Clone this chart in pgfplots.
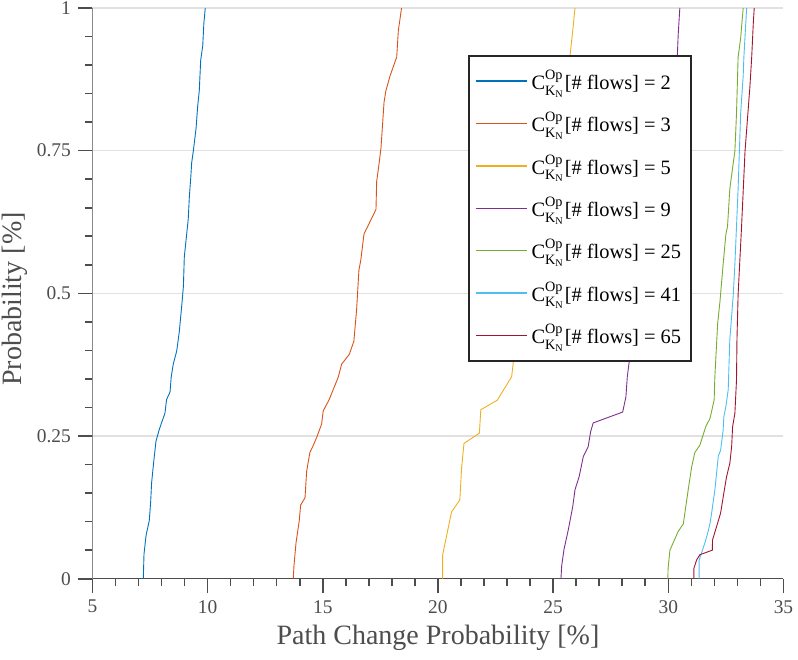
\documentclass[border=0pt]{standalone}
\usepackage{fontspec}
\setmainfont{Liberation Serif}
\usepackage{amsmath}
\usepackage{pgfplots}
\pgfplotsset{compat=1.18}

\definecolor{c1}{rgb}{0,0.447,0.741}
\definecolor{c2}{rgb}{0.85,0.325,0.098}
\definecolor{c3}{rgb}{0.929,0.694,0.125}
\definecolor{c4}{rgb}{0.494,0.184,0.556}
\definecolor{c5}{rgb}{0.466,0.674,0.188}
\definecolor{c6}{rgb}{0.301,0.745,0.933}
\definecolor{c7}{rgb}{0.635,0.078,0.184}
\definecolor{axgray}{HTML}{4D4D4D}
\definecolor{gridgray}{HTML}{E1E1E1}

\newcommand{\ck}{$\text{C}^{\text{Op}}_{\text{K}_{\text{N}}}$}

\begin{document}
\begin{tikzpicture}
\begin{axis}[
  width=345.55pt, height=285.35pt, scale only axis,
  xmin=5, xmax=35, ymin=0, ymax=1,
  axis line style={draw=none},
  xtick pos=left, ytick pos=left,
  tick align=outside,
  xtick={5,10,...,35}, ytick={0,0.25,0.5,0.75,1},
  minor x tick num=4, minor y tick num=4,
  tickwidth=7.25pt, subtickwidth=3.75pt,
  every tick/.style={draw=axgray, line width=0.8pt},
  ymajorgrids, grid style={line width=0.6pt, gridgray},
  tick label style={axgray, font=\fontsize{9.7}{11}\selectfont},
  /pgf/number format/assume math mode=true,
  xlabel={Path Change Probability [\%]},
  ylabel={Probability [\%]},
  label style={font=\fontsize{14}{16}\selectfont, axgray},
  xlabel style={at={(axis description cs:0.5,-0.1033)}, anchor=center},
  ylabel style={at={(axis description cs:-0.1129,0.49)}, anchor=center},
  legend style={at={(rel axis cs:0.5435,0.9177)}, anchor=north west,
    draw=black!85, line width=1pt, fill=white,
    font=\fontsize{10.2}{12}\selectfont,
    inner xsep=3pt, inner ysep=5pt, row sep=6pt},
  legend cell align=left,
  legend image code/.code={\draw[#1, line width=0.75pt] (0pt,0pt) -- (25.5pt,0pt);},
  every axis plot/.append style={line width=0.45pt},
]
% axis lines on the left and at the bottom only
\draw[axgray, line width=0.6pt] (rel axis cs:0,1) -- (rel axis cs:0,0) -- (rel axis cs:1,0);
% two flows
\addplot[color=c1] coordinates {(7.21,0)(7.24,0.043)(7.33,0.076)(7.47,0.102)(7.53,0.135)(7.57,0.168)(7.67,0.208)(7.76,0.241)(7.90,0.261)(8.01,0.274)(8.15,0.290)(8.22,0.314)(8.37,0.327)(8.42,0.353)(8.51,0.376)(8.66,0.399)(8.77,0.432)(8.88,0.479)(8.95,0.512)(8.99,0.564)(9.06,0.591)(9.16,0.630)(9.21,0.670)(9.27,0.703)(9.31,0.729)(9.38,0.749)(9.50,0.789)(9.57,0.828)(9.64,0.855)(9.70,0.908)(9.79,0.934)(9.84,0.974)(9.90,1)};
\addlegendentry{\ck[\# flows] = 2}
% three flows
\addplot[color=c2] coordinates {(13.72,0)(13.75,0.023)(13.84,0.063)(13.98,0.102)(14.04,0.129)(14.23,0.142)(14.30,0.188)(14.44,0.221)(14.56,0.231)(14.74,0.248)(14.95,0.271)(15.02,0.294)(15.28,0.314)(15.67,0.353)(15.82,0.376)(16.15,0.393)(16.35,0.416)(16.47,0.472)(16.57,0.541)(16.65,0.558)(16.79,0.604)(17.19,0.637)(17.31,0.647)(17.34,0.696)(17.45,0.729)(17.53,0.756)(17.66,0.835)(17.74,0.855)(17.92,0.881)(18.21,0.914)(18.28,0.960)(18.42,1)};
\addlegendentry{\ck[\# flows] = 3}
% five flows
\addplot[color=c3] coordinates {(20.20,0)(20.20,0.041)(20.59,0.117)(20.95,0.138)(21.03,0.196)(21.13,0.237)(21.80,0.255)(21.86,0.296)(22.58,0.313)(23.20,0.354)(23.30,0.389)(23.55,0.45)(23.85,0.52)(24.2,0.60)(24.55,0.68)(24.9,0.76)(25.25,0.84)(25.73,0.915)(25.85,0.96)(25.95,1)};
\addlegendentry{\ck[\# flows] = 5}
% nine flows
\addplot[color=c4] coordinates {(25.34,0)(25.37,0.022)(25.47,0.051)(25.66,0.086)(25.85,0.126)(25.95,0.156)(26.13,0.179)(26.31,0.214)(26.52,0.231)(26.63,0.258)(26.74,0.273)(28.02,0.292)(28.16,0.319)(28.22,0.354)(28.33,0.389)(28.5,0.45)(28.8,0.53)(29.1,0.62)(29.45,0.71)(29.8,0.79)(30.1,0.86)(30.39,0.915)(30.43,0.954)(30.50,1)};
\addlegendentry{\ck[\# flows] = 9}
% 25 flows
\addplot[color=c5] coordinates {(29.98,0)(29.99,0.018)(30.07,0.050)(30.43,0.083)(30.65,0.096)(30.86,0.155)(31.01,0.195)(31.15,0.221)(31.37,0.234)(31.63,0.267)(31.81,0.281)(31.99,0.313)(32.02,0.353)(32.14,0.446)(32.24,0.485)(32.38,0.551)(32.50,0.604)(32.57,0.617)(32.67,0.683)(32.82,0.729)(32.89,0.749)(32.96,0.815)(33.03,0.914)(33.14,0.947)(33.25,1)};
\addlegendentry{\ck[\# flows] = 25}
% 41 flows
\addplot[color=c6] coordinates {(31.34,0)(31.34,0.033)(31.59,0.063)(31.73,0.083)(31.81,0.097)(31.88,0.115)(32.02,0.155)(32.17,0.215)(32.27,0.225)(32.38,0.260)(32.41,0.284)(32.50,0.302)(32.60,0.331)(32.67,0.419)(32.82,0.498)(32.89,0.551)(33.03,0.683)(33.14,0.815)(33.25,0.881)(33.28,0.914)(33.40,1)};
\addlegendentry{\ck[\# flows] = 41}
% 65 flows
\addplot[color=c7] coordinates {(31.11,0)(31.11,0.018)(31.23,0.033)(31.37,0.042)(31.91,0.050)(31.92,0.068)(32.10,0.092)(32.27,0.115)(32.41,0.150)(32.53,0.179)(32.67,0.202)(32.75,0.232)(32.79,0.266)(32.89,0.290)(32.96,0.348)(32.98,0.419)(33.03,0.498)(33.18,0.617)(33.33,0.749)(33.54,0.861)(33.62,0.914)(33.69,0.974)(33.73,1)};
\addlegendentry{\ck[\# flows] = 65}
\end{axis}
\pgfresetboundingbox
\path[use as bounding box] (-46.2pt,-40.15pt) rectangle (352.8pt,289.35pt);
\end{tikzpicture}
\end{document}
